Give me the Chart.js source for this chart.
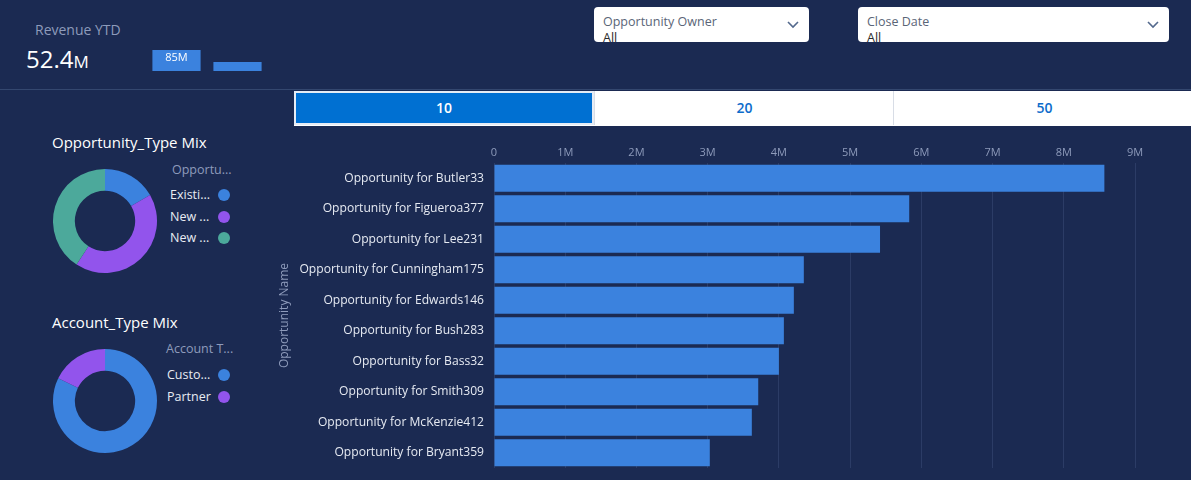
<!DOCTYPE html>
<html>
<head>
<meta charset="utf-8">
<script src="https://cdn.jsdelivr.net/npm/chart.js@4.4.1/dist/chart.umd.min.js"></script>
<style>
  html,body{margin:0;padding:0;}
  body{width:1191px;height:480px;background:#1b2a52;position:relative;overflow:hidden;font-family:"Open Sans",sans-serif;}
  .abs{position:absolute;}
  .sep{left:0;top:89px;width:1191px;height:1px;background:#34476f;}
  .kpiTitle{left:35px;top:20px;font-size:14px;color:#8e9bbb;}
  .kpiVal{left:26px;top:43px;font-size:24px;color:#ffffff;line-height:32px;}
  .kpiVal small{font-size:17px;}
  .dd{top:7px;height:35px;background:#fff;border-radius:4px;overflow:hidden;}
  .dd .lbl{position:absolute;left:9px;top:6px;font-size:12.5px;color:#5a6577;}
  .dd .val{position:absolute;left:9px;top:22px;font-size:12.5px;color:#2b2b2b;}
  .dd svg{position:absolute;top:13px;}
  .tog{top:91px;height:35px;left:294px;width:900px;background:#fff;}
  .tog div{position:absolute;top:0;height:34px;line-height:34px;text-align:center;font-size:14px;font-weight:600;color:#0d6ccb;}
  .title{font-size:15px;color:#ffffff;}
  .lgT{font-size:12.5px;color:#8e9bbb;}
  .lgI{font-size:12.5px;color:#e8ecf3;}
  .dot{width:12px;height:12px;border-radius:6px;}
</style>
</head>
<body>
<div class="abs sep"></div>
<div class="abs kpiTitle">Revenue YTD</div>
<div class="abs kpiVal">52.4<small>M</small></div>
<canvas id="mini" class="abs" width="122" height="21" style="left:146px;top:50px;"></canvas>

<div class="abs dd" style="left:594px;width:215px;">
  <div class="lbl">Opportunity Owner</div><div class="val">All</div>
  <svg style="left:192px" width="14" height="10" viewBox="0 0 14 10"><path d="M2 2 L7 7 L12 2" stroke="#54698d" stroke-width="1.6" fill="none"/></svg>
</div>
<div class="abs dd" style="left:858px;width:311px;">
  <div class="lbl">Close Date</div><div class="val">All</div>
  <svg style="left:288px" width="14" height="10" viewBox="0 0 14 10"><path d="M2 2 L7 7 L12 2" stroke="#54698d" stroke-width="1.6" fill="none"/></svg>
</div>

<div class="abs tog">
  <div style="left:0;width:300px;background:#0070d2;color:#fff;box-shadow:inset 0 0 0 2px #e6ecf5;">10</div>
  <div style="left:300px;width:299px;border-left:1px solid #d8dde6;">20</div>
  <div style="left:599px;width:301px;border-left:1px solid #d8dde6;">50</div>
</div>

<div class="abs title" style="left:52px;top:132px;">Opportunity_Type Mix</div>
<canvas id="d1" class="abs" width="106" height="106" style="left:52px;top:168px;"></canvas>
<div class="abs lgT" style="left:172px;top:161px;">Opportu...</div>
<div id="lg1"></div>

<div class="abs title" style="left:52px;top:312px;">Account_Type Mix</div>
<canvas id="d2" class="abs" width="106" height="106" style="left:52px;top:348px;"></canvas>
<div class="abs lgT" style="left:166px;top:340px;">Account T...</div>
<div id="lg2"></div>

<canvas id="bars" class="abs" width="921" height="340" style="left:270px;top:140px;"></canvas>

<script>
// ---- data ----
const kpiBars = [85, 36];
const kpiLabels = ['85M', ''];

const oppTypeLabels = ['Existi...', 'New ...', 'New ...'];
const oppTypeValues = [16.7, 42.5, 40.8];
const oppTypeColors = ['#3b82de', '#9254ec', '#4ca99b'];

const acctTypeLabels = ['Custo...', 'Partner'];
const acctTypeValues = [82.2, 17.8];
const acctTypeColors = ['#3b82de', '#9254ec'];

const oppNames = ['Opportunity for Butler33','Opportunity for Figueroa377','Opportunity for Lee231','Opportunity for Cunningham175','Opportunity for Edwards146','Opportunity for Bush283','Opportunity for Bass32','Opportunity for Smith309','Opportunity for McKenzie412','Opportunity for Bryant359'];
const oppAmounts = [8570000, 5830000, 5420000, 4350000, 4210000, 4070000, 4000000, 3710000, 3620000, 3030000];
const xTicks = ['0','1M','2M','3M','4M','5M','6M','7M','8M','9M'];

// ---- mini KPI bars ----
const miniLabelPlugin = {
  id:'miniLabel',
  afterDatasetsDraw(chart){
    const ctx = chart.ctx;
    chart.getDatasetMeta(0).data.forEach((b,i)=>{
      if(!kpiLabels[i]) return;
      ctx.save();
      ctx.fillStyle='#ffffff';
      ctx.font='11px "Open Sans"';
      ctx.textAlign='center';
      ctx.textBaseline='middle';
      ctx.fillText(kpiLabels[i], b.x, b.y+8);
      ctx.restore();
    });
  }
};
new Chart(document.getElementById('mini'), {
  type:'bar',
  data:{labels:['a','b'], datasets:[{data:kpiBars, backgroundColor:'#3b82de', barPercentage:0.79, categoryPercentage:1}]},
  options:{responsive:false, animation:false, layout:{padding:0},
    plugins:{legend:{display:false}, tooltip:{enabled:false}},
    scales:{x:{display:false}, y:{display:false, min:0, max:85}}},
  plugins:[miniLabelPlugin]
});

// ---- donuts ----
function donut(id, labels, values, colors){
  new Chart(document.getElementById(id), {
    type:'doughnut',
    data:{labels, datasets:[{data:values, backgroundColor:colors, borderWidth:0}]},
    options:{responsive:false, animation:false, cutout:'58%', layout:{padding:1},
      plugins:{legend:{display:false}, tooltip:{enabled:false}}}
  });
}
donut('d1', oppTypeLabels, oppTypeValues, oppTypeColors);
donut('d2', acctTypeLabels, acctTypeValues, acctTypeColors);

function legend(id, labels, colors, textLeft, top, step){
  const el = document.getElementById(id);
  labels.forEach((l,i)=>{
    const t = document.createElement('div');
    t.className='abs lgI'; t.textContent=l;
    t.style.left=textLeft+'px'; t.style.top=(top+i*step)+'px';
    el.appendChild(t);
    const d = document.createElement('div');
    d.className='abs dot'; d.style.background=colors[i];
    d.style.left='218px'; d.style.top=(top+i*step+3)+'px';
    el.appendChild(d);
  });
}
legend('lg1', oppTypeLabels, oppTypeColors, 170, 186, 21.5);
legend('lg2', acctTypeLabels, acctTypeColors, 167, 366, 22);

// ---- main bar chart ----
new Chart(document.getElementById('bars'), {
  type:'bar',
  data:{labels:oppNames, datasets:[{data:oppAmounts, backgroundColor:'#3b82de', categoryPercentage:0.89, barPercentage:1}]},
  options:{
    indexAxis:'y', responsive:false, animation:false,
    layout:{padding:{top:0,right:56,bottom:12,left:0}},
    plugins:{legend:{display:false}, tooltip:{enabled:false}},
    scales:{
      x:{position:'top', min:0, max:9000000,
         ticks:{stepSize:1000000, color:'#8e9bbb', font:{size:11, family:'"Open Sans"'}, padding:4,
                callback:(v,i)=>xTicks[i]},
         grid:{color:'#2c3c66', drawTicks:false},
         border:{display:false},
         afterFit:s=>{s.height=23;}},
      y:{ticks:{color:'#e6eaf2', font:{size:12.1, family:'"Open Sans"'}, padding:2},
         grid:{display:false}, border:{display:false},
         title:{display:true, text:'Opportunity Name', color:'#8e9bbb', font:{size:12, family:'"Open Sans"'}, padding:{top:7,bottom:2}},
         afterFit:s=>{s.width=224;}}
    }
  }
});
</script>
</body>
</html>
